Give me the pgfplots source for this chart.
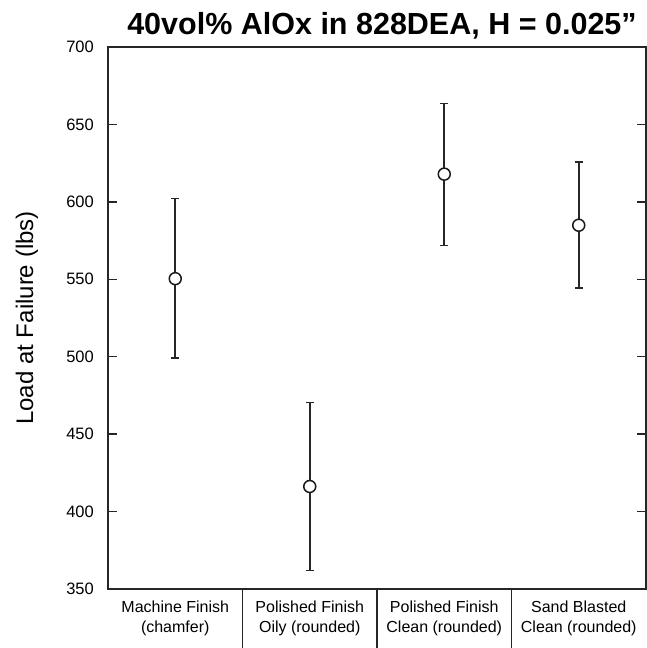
\documentclass[border=0pt]{standalone}
\usepackage{pgfplots}
\pgfplotsset{compat=1.18}
\usepackage{fontspec}
\setmainfont{Liberation Sans}
\begin{document}
\begin{tikzpicture}
\path[use as bounding box] (-108pt,-59pt) rectangle (538pt,589pt);
\begin{axis}[
  scale only axis,
  width=538pt, height=542pt,
  at={(0,0)}, anchor=south west,
  xmin=0.5, xmax=4.5,
  ymin=350, ymax=700,
  ytick={350,400,...,700},
  xtick={1,2,3,4},
  xticklabels={{Machine Finish\\(chamfer)},{Polished Finish\\Oily (rounded)},{Polished Finish\\Clean (rounded)},{Sand Blasted\\Clean (rounded)}},
  xtick pos=bottom,
  xtick style={draw=none},
  ytick pos=both,
  ytick style={draw=black!85, line width=1.4pt},
  major tick length=9pt,
  tick align=inside,
  axis line style={draw=black!85, line width=1.6pt},
  clip=false,
  /pgf/number format/assume math mode=true,
  yticklabel style={font=\fontsize{16.5}{20}\selectfont, inner sep=0pt, xshift=-14pt},
  xticklabel style={font=\fontsize{16}{20}\selectfont, align=center, inner sep=0pt, anchor=north, yshift=-12pt},
  ylabel={Load at Failure (lbs)},
  every axis y label/.style={at={(axis description cs:-0.1506,0.5)}, rotate=90, anchor=center, font=\fontsize{24}{28}\selectfont},
  title={\textbf{40vol\% AlOx in 828DEA, H = 0.025\char"22}},
  every axis title/.style={at={(axis description cs:0.5,1)}, anchor=base, yshift=12pt, xshift=5pt, font=\fontsize{30.5}{34}\selectfont},
]
\addplot[
  only marks,
  mark=*,
  mark size=6pt,
  mark options={fill=white, draw=black!90, line width=1.5pt},
  error bars/.cd,
    y dir=both, y explicit,
    error mark options={rotate=90, mark size=4pt, line width=1.6pt, draw=black!85},
    error bar style={line width=1.6pt, draw=black!85},
] table[x=x, y=y, y error plus=ep, y error minus=em] {
x y ep em
1 550.4 51.7 51.1
2 416.2 54.2 54.3
3 617.9 45.7 46.0
4 584.9 40.7 40.4
};
\draw[draw=black!85, line width=1.6pt] (axis cs:1.5,350) -- ++(0pt,-60pt);
\draw[draw=black!85, line width=1.6pt] (axis cs:2.5,350) -- ++(0pt,-60pt);
\draw[draw=black!85, line width=1.6pt] (axis cs:3.5,350) -- ++(0pt,-60pt);
\end{axis}
\end{tikzpicture}
\end{document}
